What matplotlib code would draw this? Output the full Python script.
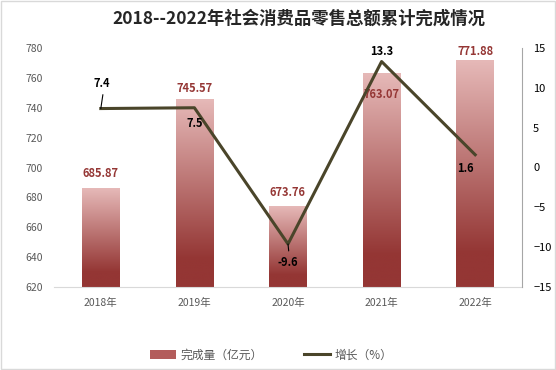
import numpy as np
import matplotlib
matplotlib.use("Agg")
import matplotlib.pyplot as plt
from matplotlib.colors import LinearSegmentedColormap
from matplotlib.patches import Patch, Rectangle
from matplotlib.lines import Line2D

plt.rcParams['font.family'] = ['Noto Sans CJK SC', 'DejaVu Sans']

years = ["2018年", "2019年", "2020年", "2021年", "2022年"]
volume = [685.87, 745.57, 673.76, 763.07, 771.88]
growth = [7.4, 7.5, -9.6, 13.3, 1.6]
growth_labels = ["7.4", "7.5", "-9.6", "13.3", "1.6"]

BAR_DARK = "#943634"
BAR_LIGHT = "#e6b9b8"
LINE_COLOR = "#4a452a"
TICK_COLOR = "#595959"

fig = plt.figure(figsize=(5.56, 3.70), dpi=100)
ax = fig.add_axes([54 / 556, 83 / 370, 468 / 556, 239 / 370])
ax2 = ax.twinx()

cmap = LinearSegmentedColormap.from_list(
    "bar", [(0, BAR_DARK), (0.15, BAR_DARK), (1.0, BAR_LIGHT)])
grad = np.linspace(0, 1, 256).reshape(-1, 1)

x = np.arange(len(years))
w = 0.4
base = 620
# label offset from bar top, in points (2021 sits inside the bar)
bar_offs = [11, 8, 10, -15, 6]
for xi, v, off in zip(x, volume, bar_offs):
    ax.imshow(grad, cmap=cmap, origin="lower", aspect="auto",
              extent=[xi - w / 2, xi + w / 2, base, v], zorder=2)
    ax.annotate(f"{v:.2f}", (xi, v), xytext=(0, off), textcoords="offset points",
                ha="center", va="center", fontsize=8, fontweight="bold",
                color="#953735", zorder=4)

ax.set_xlim(-0.5, 4.5)
ax.set_ylim(620, 780)
ax.set_yticks(range(620, 781, 20))
ax.set_xticks(x)
ax.set_xticklabels(years)
ax.tick_params(axis="both", length=0, labelsize=7.5, colors=TICK_COLOR)
ax.tick_params(axis="x", pad=8)
ax.tick_params(axis="y", pad=8)
for s in ["left", "top", "right"]:
    ax.spines[s].set_visible(False)
ax.spines["bottom"].set_color("#d9d9d9")

ax2.plot(x, growth, color=LINE_COLOR, lw=2.2, zorder=3)
ax2.set_ylim(-15, 15)
ax2.set_yticks(range(-15, 16, 5))
ax2.tick_params(axis="y", length=0, labelsize=8, colors="black", pad=8)
for s in ["left", "top", "bottom"]:
    ax2.spines[s].set_visible(False)
ax2.spines["right"].set_color("#a6a6a6")

# line labels
offs = [(1, 18), (0, -11), (0, -13), (0, 7), (-7, -10)]
for xi, g, lab, (dx, dy) in zip(x, growth, growth_labels, offs):
    ax2.annotate(lab, (xi, g), xytext=(dx, dy), textcoords="offset points",
                 ha="center", va="center", fontsize=8, fontweight="bold",
                 color="black")
ax2.annotate("", (0, 7.4), xytext=(1.5, 10), textcoords="offset points",
             arrowprops=dict(arrowstyle="-", color="black", lw=0.8,
                             shrinkA=0, shrinkB=0))
ax2.annotate("", (2, -9.6), xytext=(0.5, -5), textcoords="offset points",
             arrowprops=dict(arrowstyle="-", color="black", lw=0.8,
                             shrinkA=0, shrinkB=0))

fig.text(299 / 556, 1 - 19 / 370, "2018--2022年社会消费品零售总额累计完成情况",
         ha="center", va="center", fontsize=12.5, fontweight="bold",
         color="#262626")

handles = [Patch(facecolor="#b35c5b", edgecolor="none"),
           Line2D([0], [0], color=LINE_COLOR, lw=2.2)]
fig.legend(handles, ["完成量（亿元）", "增长（%）"], loc="center",
           bbox_to_anchor=(271 / 556, 1 - 355 / 370), ncol=2, frameon=False,
           fontsize=8.5, columnspacing=3.5, handlelength=2.2, handletextpad=0.4,
           labelcolor=TICK_COLOR)

fig.patches.append(Rectangle((0.002, 0.002), 0.996, 0.995, transform=fig.transFigure,
                             fill=False, edgecolor="#d9d9d9", lw=1))

fig.savefig("out.png", dpi=100)
